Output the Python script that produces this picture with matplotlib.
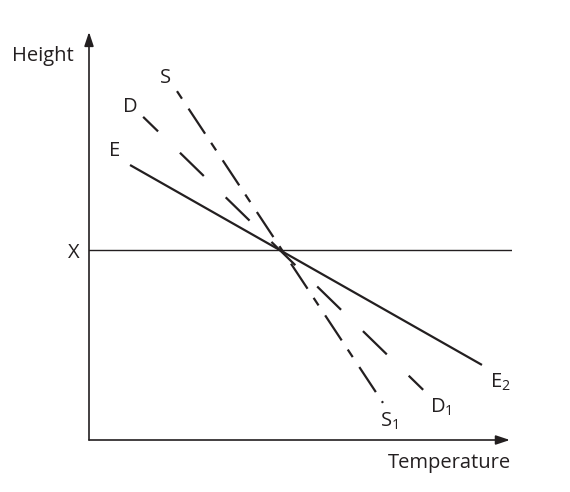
import matplotlib.pyplot as plt

plt.rcParams['font.family'] = ['Open Sans', 'DejaVu Sans']
plt.rcParams['lines.scale_dashes'] = False

ink = '#231f20'

# line end points (x, y) in axis units 0..100
e_x = [9.7, 92.9]
e_y = [67.4, 18.4]
d_x = [12.8, 79.0]
d_y = [79.2, 12.3]
s_x = [20.8, 69.5]
s_y = [85.5, 9.1]
x_level = 46.6

fig = plt.figure(figsize=(5.7, 4.92), dpi=100)
ax = fig.add_axes([89 / 570, 52 / 492, 423 / 570, 408 / 492])
ax.set_xlim(0, 100)
ax.set_ylim(0, 100)
ax.axis('off')

# axes with arrows
arrow = dict(arrowstyle='-|>,head_length=0.6,head_width=0.2', lw=1.2, color=ink,
             mutation_scale=14, shrinkA=0, shrinkB=0)
ax.annotate('', xy=(99.5, 0), xytext=(0, 0), arrowprops=arrow, annotation_clip=False)
ax.annotate('', xy=(0, 100), xytext=(0, 0), arrowprops=arrow, annotation_clip=False)

# horizontal level X
ax.axhline(x_level, xmin=0, xmax=1, color=ink, lw=1.0)

# the three lines
ax.plot(e_x, e_y, color=ink, lw=1.6, solid_capstyle='butt')
ax.plot(d_x, d_y, color=ink, lw=1.6, dash_capstyle='butt',
        linestyle=(9, (24, 22)))
ax.plot(s_x, s_y, color=ink, lw=1.6, dash_capstyle='butt',
        linestyle=(0, (6.5, 8.6, 21.6, 7.9)))

fs = 14.5
ax.text(-10.9, 92.9, 'Height', fontsize=fs, color=ink, ha='center', va='baseline')
ax.text(85.3, -6.9, 'Temperature', fontsize=fs, color=ink, ha='center', va='baseline')
ax.text(-3.5, 44.6, 'X', fontsize=fs, color=ink, ha='center', va='baseline')
ax.text(6.1, 69.6, 'E', fontsize=fs, color=ink, ha='center', va='baseline')
ax.text(9.7, 80.4, 'D', fontsize=fs, color=ink, ha='center', va='baseline')
ax.text(18.2, 87.5, 'S', fontsize=fs, color=ink, ha='center', va='baseline')
ax.text(94.8, 12.7, r'E$_\mathregular{2}$', fontsize=fs, color=ink, ha='left', va='baseline')
ax.text(80.6, 6.6, r'D$_\mathregular{1}$', fontsize=fs, color=ink, ha='left', va='baseline')
ax.text(68.8, 3.2, r'S$_\mathregular{1}$', fontsize=fs, color=ink, ha='left', va='baseline')

fig.savefig('out.png', dpi=100, facecolor='white')
